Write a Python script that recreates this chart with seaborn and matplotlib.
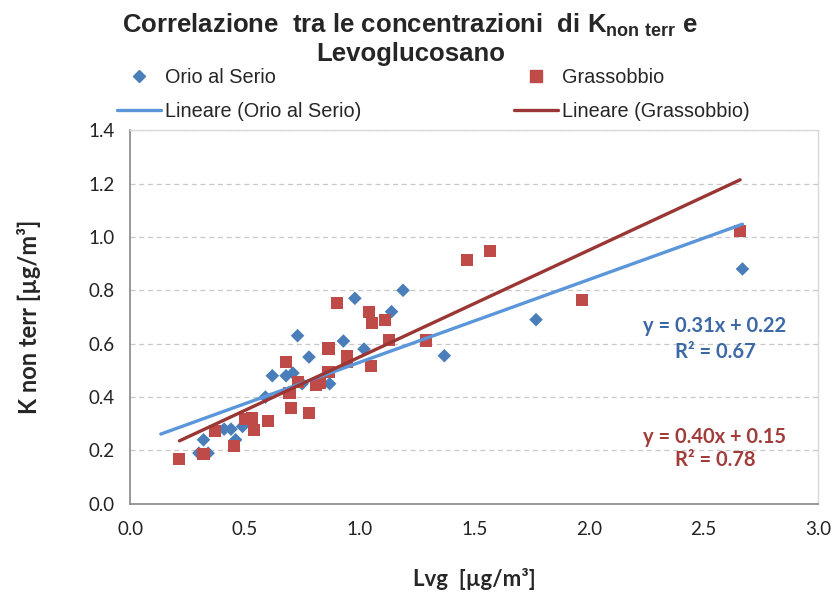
import numpy as np
import pandas as pd
import matplotlib
matplotlib.use("Agg")
import matplotlib.pyplot as plt
import seaborn as sns
from matplotlib.lines import Line2D

# Orio al Serio (Lvg, K non terr)
orio_x = [0.30, 0.34, 0.32, 0.41, 0.44, 0.46, 0.49, 0.59, 0.62, 0.68, 0.71, 0.73,
          0.75, 0.78, 0.87, 0.93, 0.98, 1.02, 1.14, 1.19, 1.37, 1.77, 2.67]
orio_y = [0.19, 0.19, 0.24, 0.28, 0.28, 0.24, 0.29, 0.40, 0.48, 0.48, 0.49, 0.63,
          0.45, 0.55, 0.45, 0.61, 0.77, 0.58, 0.72, 0.80, 0.555, 0.69, 0.88]

# Grassobbio
grass_x = [0.215, 0.32, 0.37, 0.455, 0.50, 0.53, 0.54, 0.60, 0.68, 0.70, 0.695, 0.73,
           0.78, 0.81, 0.83, 0.865, 0.865, 0.90, 0.945, 0.945, 1.05, 1.04, 1.055,
           1.11, 1.13, 1.29, 1.47, 1.57, 1.97, 2.66]
grass_y = [0.167, 0.187, 0.273, 0.218, 0.318, 0.32, 0.277, 0.31, 0.532, 0.359, 0.416,
           0.455, 0.34, 0.444, 0.452, 0.494, 0.582, 0.752, 0.553, 0.531, 0.517, 0.72,
           0.677, 0.689, 0.613, 0.612, 0.914, 0.949, 0.764, 1.022]

# trend lines as reported in the chart
orio_fit = (0.31, 0.22)
grass_fit = (0.40, 0.15)
orio_span = [0.134, 2.67]
grass_span = [0.215, 2.66]
orio_eq = ["y = 0.31x + 0.22", "R² = 0.67"]
grass_eq = ["y = 0.40x + 0.15", "R² = 0.78"]

blue_pt = "#4A7EBB"
red_pt = "#BE4B48"
blue_ln = "#5B96DA"
red_ln = "#9A3735"

sns.set_style("white")
plt.rcParams["font.family"] = ["Liberation Sans", "DejaVu Sans"]

fig = plt.figure(figsize=(8.34, 5.97), dpi=100)
ax = fig.add_axes([0.156, 0.156, 0.825, 0.626])

df_o = pd.DataFrame({"x": orio_x, "y": orio_y})
df_g = pd.DataFrame({"x": grass_x, "y": grass_y})

sns.scatterplot(data=df_o, x="x", y="y", marker="D", s=48, color=blue_pt,
                edgecolor="none", ax=ax, zorder=3)
sns.scatterplot(data=df_g, x="x", y="y", marker="s", s=75, color=red_pt,
                edgecolor="none", ax=ax, zorder=3)

xo = np.array(orio_span)
xg = np.array(grass_span)
sns.lineplot(x=xo, y=orio_fit[0] * xo + orio_fit[1], color=blue_ln, lw=2.4, ax=ax, zorder=4)
sns.lineplot(x=xg, y=grass_fit[0] * xg + grass_fit[1], color=red_ln, lw=2.4, ax=ax, zorder=4)

ax.set_xlim(0, 3.0)
ax.set_ylim(0, 1.4)
ax.set_xticks(np.arange(0, 3.01, 0.5))
ax.set_yticks(np.arange(0, 1.41, 0.2))
ax.set_xticklabels([f"{v:.1f}" for v in np.arange(0, 3.01, 0.5)])
ax.set_yticklabels([f"{v:.1f}" for v in np.arange(0, 1.41, 0.2)])
ax.tick_params(axis="both", labelsize=13.5, length=5, width=1,
               direction="out", color="#888888", pad=6)
for lab in ax.get_xticklabels() + ax.get_yticklabels():
    lab.set_family(["Lato", "DejaVu Sans"])
    lab.set_color("#222222")
ax.tick_params(axis="x", pad=7)

ax.yaxis.grid(True, ls=(0, (4, 3)), color="#C8C8C8", lw=0.9)
ax.set_axisbelow(True)
for side in ["top", "right"]:
    ax.spines[side].set_color("#D9D9D9")
    ax.spines[side].set_linewidth(1)
for side in ["left", "bottom"]:
    ax.spines[side].set_color("#888888")
    ax.spines[side].set_linewidth(1.2)

ax.set_xlabel("Lvg  [µg/m³]", fontsize=16, fontweight="bold",
              family=["Lato", "DejaVu Sans"], labelpad=22)
ax.set_ylabel("K non terr [µg/m³]", fontsize=17, fontweight="bold",
              family=["Lato", "DejaVu Sans"], labelpad=34)

# equations
eq_font = dict(fontsize=14.5, fontweight="bold", family=["Lato", "DejaVu Sans"], ha="center")
ax.text(2.55, 0.667, orio_eq[0], color="#3C68A6", va="center", **eq_font)
ax.text(2.55, 0.569, orio_eq[1], color="#3C68A6", va="center", **eq_font)
ax.text(2.55, 0.251, grass_eq[0], color="#A23C3B", va="center", **eq_font)
ax.text(2.55, 0.165, grass_eq[1], color="#A23C3B", va="center", **eq_font)

fig.text(0.492, 0.957, r"Correlazione  tra le concentrazioni  di K$_{\mathregular{non\ terr}}$ e",
         ha="center", va="center", fontsize=18.5, fontweight="bold")
fig.text(0.492, 0.91, "Levoglucosano", ha="center", va="center",
         fontsize=18.5, fontweight="bold")

handles = [
    Line2D([], [], marker="D", ls="none", color=blue_pt, markersize=6),
    Line2D([], [], color=blue_ln, lw=2.4),
    Line2D([], [], marker="s", ls="none", color=red_pt, markersize=8),
    Line2D([], [], color=red_ln, lw=2.4),
]
labels = ["Orio al Serio", "Lineare (Orio al Serio)", "Grassobbio", "Lineare (Grassobbio)"]
fig.legend(handles, labels, ncol=2, loc="upper left", bbox_to_anchor=(0.124, 0.91),
           frameon=False, fontsize=14.3, handlelength=2.2, handletextpad=0.2,
           columnspacing=7.7, labelspacing=0.75, borderpad=0.2)

fig.savefig("out.png", dpi=100)
